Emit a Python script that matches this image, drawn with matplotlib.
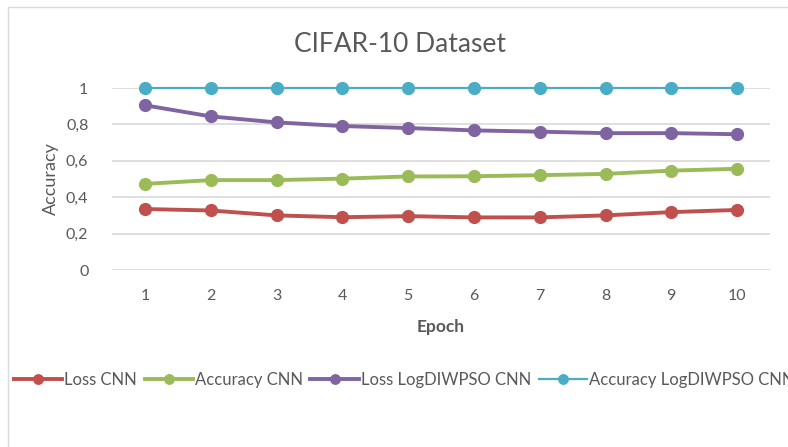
import numpy as np
import matplotlib
matplotlib.use('Agg')
import matplotlib.pyplot as plt
from matplotlib.ticker import FuncFormatter
from matplotlib.patches import Rectangle

plt.rcParams['font.family'] = ['Lato', 'DejaVu Sans']

epochs = [1, 2, 3, 4, 5, 6, 7, 8, 9, 10]
loss_cnn = [0.335, 0.327, 0.300, 0.290, 0.296, 0.289, 0.289, 0.300, 0.318, 0.330]
acc_cnn = [0.473, 0.494, 0.494, 0.502, 0.514, 0.515, 0.521, 0.528, 0.546, 0.556]
loss_pso = [0.905, 0.844, 0.811, 0.791, 0.780, 0.767, 0.760, 0.752, 0.752, 0.746]
acc_pso = [1, 1, 1, 1, 1, 1, 1, 1, 1, 1]

series_names = ['Loss CNN', 'Accuracy CNN', 'Loss LogDIWPSO CNN', 'Accuracy LogDIWPSO CNN']
colors = ['#c0504d', '#9bbb59', '#8064a2', '#4bacc6']
widths = [2.8, 2.8, 2.8, 1.6]

text_col = '#595959'

fig = plt.figure(figsize=(7.88, 4.47), dpi=100)
# chart border (only the left and top edges are visible in the crop)
fig.patches.append(Rectangle((8 / 788, -0.1), 1.2, 1 - 7 / 447 + 0.1,
                             transform=fig.transFigure, fill=False,
                             edgecolor='#d9d9d9', linewidth=1.0))

ax = fig.add_axes([112 / 788, 1 - 270 / 447, (770 - 112) / 788, (270 - 88) / 447])

for vals, name, c, w in zip([loss_cnn, acc_cnn, loss_pso, acc_pso], series_names, colors, widths):
    ax.plot(epochs, vals, color=c, linewidth=w, marker='o', markersize=8.5,
            label=name, clip_on=False, zorder=3)

ax.set_xlim(0.5, 10.5)
ax.set_ylim(0, 1)
ax.set_yticks(np.arange(0, 1.01, 0.2))
ax.set_xticks(epochs)
ax.yaxis.set_major_formatter(FuncFormatter(lambda v, p: ('%g' % round(v, 1)).replace('.', ',')))
ax.grid(axis='y', color='#d9d9d9', linewidth=1.2)
ax.set_axisbelow(True)
for s in ax.spines.values():
    s.set_visible(False)
ax.tick_params(axis='both', length=0, labelsize=11.5, labelcolor=text_col)
ax.tick_params(axis='y', pad=17)
ax.tick_params(axis='x', pad=14)

ax.set_xlabel('Epoch', fontsize=12.5, fontweight='bold', color=text_col, labelpad=11)
ax.set_ylabel('Accuracy', fontsize=13, color=text_col, labelpad=5)
fig.text(400 / 788, 1 - 45 / 447, 'CIFAR-10 Dataset', ha='center', va='center',
         fontsize=19, color=text_col)

leg = fig.legend(loc='center left', bbox_to_anchor=(14 / 788, 1 - 380 / 447), ncol=4,
                 frameon=False, fontsize=12, handlelength=2.9, handletextpad=0.12,
                 columnspacing=0.45, borderaxespad=0, borderpad=0, markerscale=0.8)
for t in leg.get_texts():
    t.set_color(text_col)

fig.savefig('out.png', dpi=100)
